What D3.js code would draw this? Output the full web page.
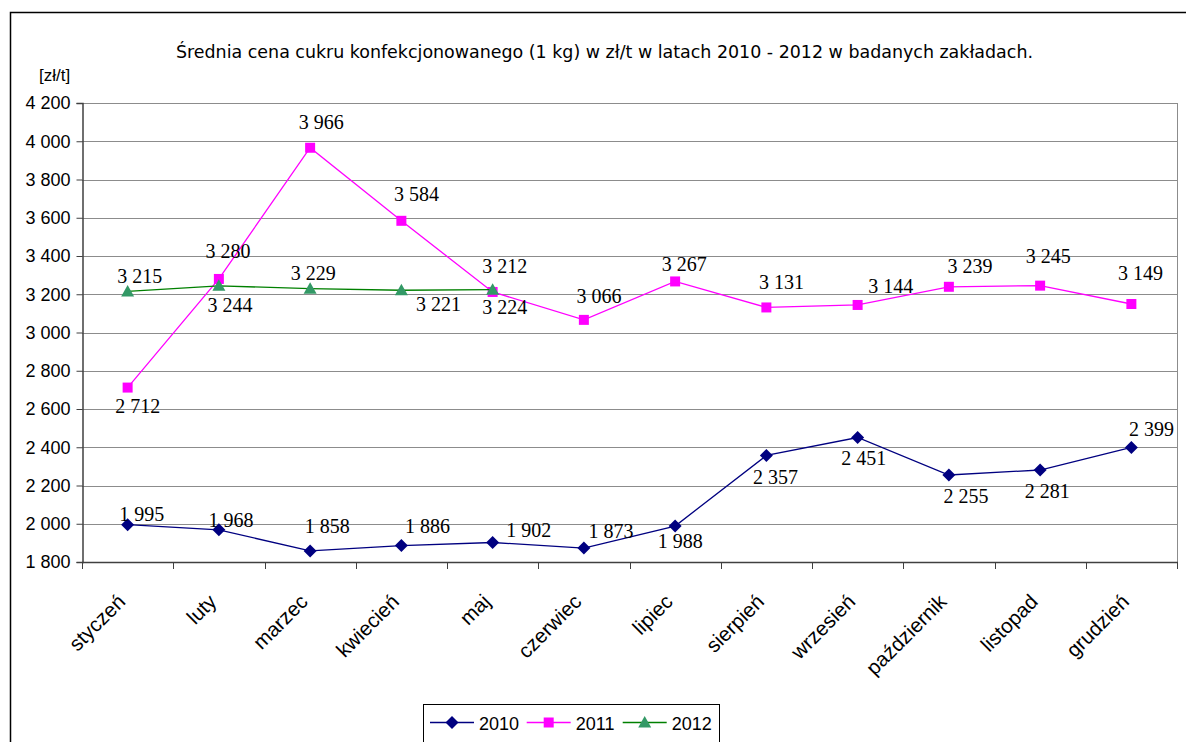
<!DOCTYPE html>
<html>
<head>
<meta charset="utf-8">
<script src="https://cdn.jsdelivr.net/npm/d3@7"></script>
<style>
  html, body { margin: 0; padding: 0; background: #fff; }
  svg { display: block; }
</style>
</head>
<body>
<svg id="chart" width="1186" height="742"></svg>
<script>
// ---- data ----
const months = ["styczeń", "luty", "marzec", "kwiecień", "maj", "czerwiec", "lipiec", "sierpień", "wrzesień", "październik", "listopad", "grudzień"];
const values2010 = [1995, 1968, 1858, 1886, 1902, 1873, 1988, 2357, 2451, 2255, 2281, 2399];
const values2011 = [2712, 3280, 3966, 3584, 3212, 3066, 3267, 3131, 3144, 3239, 3245, 3149];
const values2012 = [3215, 3244, 3229, 3221, 3224];
const seriesNames = ["2010", "2011", "2012"];
const yTickValues = [1800, 2000, 2200, 2400, 2600, 2800, 3000, 3200, 3400, 3600, 3800, 4000, 4200];
const titleText = "Średnia cena cukru konfekcjonowanego (1 kg) w zł/t w latach 2010 - 2012  w badanych zakładach.";
const unitText = "[zł/t]";

// ---- style / layout ----
const style = {
  "2010": { line: "#000080", fill: "#000080", marker: "diamond",
    labels: [[14,-4],[12,-3],[17,-18],[26,-13],[36,-5],[27,-10],[5,22],[9,29],[6,28],[17,28],[7,28],[20,-11]] },
  "2011": { line: "#FF00FF", fill: "#FF00FF", marker: "square",
    labels: [[10,25],[9,-21],[11,-19],[15,-20],[12,-19],[15,-17],[9,-10],[15,-18],[33,-12],[21,-14],[8,-23],[9,-24]] },
  "2012": { line: "#008000", fill: "#339966", marker: "triangle",
    labels: [[12,-8],[11,26],[3,-9],[37,21],[12,24]] }
};
const series = [
  { name: seriesNames[0], values: values2010 },
  { name: seriesNames[1], values: values2011 },
  { name: seriesNames[2], values: values2012 }
];

const plot = { left: 82, right: 1177, top: 103, bottom: 562 };
const svg = d3.select("#chart");
const fmt = d3.formatLocale({ decimal: ",", thousands: " ", grouping: [3], currency: ["", " zł"] }).format(",d");

const x = d3.scaleBand().domain(months).range([plot.left, plot.right]);
const y = d3.scaleLinear().domain([1800, 4200]).range([plot.bottom, plot.top]);

// outer frame
svg.append("path")
  .attr("d", `M10.5,742 L10.5,12.5 L1186,12.5`)
  .attr("fill", "none").attr("stroke", "#000").attr("stroke-width", 1.5);

// title
svg.append("text")
  .attr("x", 176).attr("y", 58)
  .attr("textLength", 857).attr("lengthAdjust", "spacingAndGlyphs")
  .style("font-family", "'Liberation Sans Narrow', 'Arial Narrow', 'DejaVu Sans Condensed', 'Liberation Sans', Arial, sans-serif")
  .style("font-size", "18px").attr("fill", "#000")
  .text(titleText);

// unit
svg.append("text")
  .attr("x", 39).attr("y", 81)
  .style("font-family", "'Liberation Sans', Arial, sans-serif")
  .style("font-size", "17px").attr("fill", "#000")
  .text(unitText);

// gridlines
svg.append("g").selectAll("line").data(yTickValues.filter(d => d > 1800)).join("line")
  .attr("x1", plot.left).attr("x2", plot.right)
  .attr("y1", d => Math.round(y(d)) + 0.5).attr("y2", d => Math.round(y(d)) + 0.5)
  .attr("stroke", "#8c8c8c").attr("stroke-width", 1);

// right border of plot area
svg.append("line")
  .attr("x1", plot.right + 0.5).attr("x2", plot.right + 0.5)
  .attr("y1", plot.top).attr("y2", plot.bottom)
  .attr("stroke", "#8c8c8c").attr("stroke-width", 1);

// y axis
const yAxis = d3.axisLeft(y).tickValues(yTickValues).tickFormat(fmt).tickSize(6).tickPadding(6);
const gy = svg.append("g").attr("transform", `translate(${plot.left + 0.5},0)`).call(yAxis);
gy.select(".domain").attr("stroke", "#404040").attr("stroke-width", 1.5);
gy.selectAll(".tick line").attr("stroke", "#404040");
gy.selectAll("text")
  .style("font-family", "'Liberation Sans', Arial, sans-serif")
  .style("font-size", "18px").attr("fill", "#000");

// x axis (ticks at category boundaries)
const boundaries = months.map(m => x(m)).concat([plot.right]);
svg.append("line")
  .attr("x1", plot.left).attr("x2", plot.right + 1)
  .attr("y1", plot.bottom + 0.5).attr("y2", plot.bottom + 0.5)
  .attr("stroke", "#404040").attr("stroke-width", 1.5);
svg.append("g").selectAll("line").data(boundaries).join("line")
  .attr("x1", d => Math.round(d) + 0.5).attr("x2", d => Math.round(d) + 0.5)
  .attr("y1", plot.bottom).attr("y2", plot.bottom + 7)
  .attr("stroke", "#404040").attr("stroke-width", 1);
svg.append("g").selectAll("text").data(months).join("text")
  .attr("transform", d => `translate(${x(d) + x.bandwidth() / 2 - 1},603) rotate(-45)`)
  .attr("text-anchor", "end")
  .style("font-family", "'Liberation Sans', Arial, sans-serif")
  .style("font-size", "20.5px").attr("fill", "#000")
  .text(d => d);

// markers
function markerPath(type) {
  if (type === "diamond") return "M0,-6.5 L6.5,0 L0,6.5 L-6.5,0 Z";
  if (type === "square") return "M-5,-5 L5,-5 L5,5 L-5,5 Z";
  return "M0,-6.5 L6.5,5 L-6.5,5 Z";
}

const line = d3.line().x((d, i) => x(months[i]) + x.bandwidth() / 2).y(d => y(d));

series.forEach(s => {
  const st = style[s.name];
  const g = svg.append("g");
  g.append("path").datum(s.values)
    .attr("d", line).attr("fill", "none")
    .attr("stroke", st.line).attr("stroke-width", 1.3);
  g.selectAll("path.m").data(s.values).join("path").attr("class", "m")
    .attr("transform", (d, i) => `translate(${x(months[i]) + x.bandwidth() / 2},${y(d)})`)
    .attr("d", markerPath(st.marker)).attr("fill", st.fill);
});

// data labels
series.forEach(s => {
  const st = style[s.name];
  svg.append("g").selectAll("text").data(s.values).join("text")
    .attr("x", (d, i) => x(months[i]) + x.bandwidth() / 2 + st.labels[i][0])
    .attr("y", (d, i) => y(d) + st.labels[i][1])
    .attr("text-anchor", "middle")
    .style("font-family", "'Liberation Serif', 'Times New Roman', serif")
    .style("font-size", "20px").attr("fill", "#000")
    .text(d => fmt(d));
});

// legend
const lg = svg.append("g");
lg.append("rect").attr("x", 423.5).attr("y", 704.5).attr("width", 296).attr("height", 50)
  .attr("fill", "#fff").attr("stroke", "#000").attr("stroke-width", 1);
const legendX = [430, 526.7, 622.7];
series.forEach((s, i) => {
  const st = style[s.name];
  const lx = legendX[i], ly = 722.5;
  lg.append("line").attr("x1", lx).attr("x2", lx + 44).attr("y1", ly).attr("y2", ly)
    .attr("stroke", st.line).attr("stroke-width", 1.3);
  lg.append("path").attr("transform", `translate(${lx + 22},${ly})`)
    .attr("d", markerPath(st.marker)).attr("fill", st.fill);
  lg.append("text").attr("x", lx + 49).attr("y", ly + 7)
    .style("font-family", "'Liberation Sans', Arial, sans-serif")
    .style("font-size", "18px").attr("fill", "#000")
    .text(s.name);
});
</script>
</body>
</html>
